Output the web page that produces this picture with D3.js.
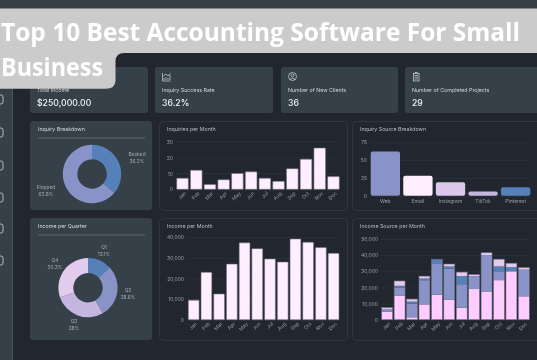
<!DOCTYPE html>
<html>
<head>
<meta charset="utf-8">
<script src="https://cdn.jsdelivr.net/npm/d3@7"></script>
<style>
  html, body { margin: 0; padding: 0; background: #20272f; overflow: hidden; }
  svg { display: block; font-family: "Inter", "Lato", sans-serif; }
</style>
</head>
<body>
<script>
const months = ['Jan','Feb','Mar','Apr','May','Jun','Jul','Aug','Sep','Oct','Nov','Dec']

const inquiriesPerMonth = [7,12,3,6,10,11,7,5,13,19,26,8]
const incomePerMonth = [9500,23000,12500,27000,37300,34500,29500,28000,39200,37600,35000,32200]

const sourceNames = ['Web','Email','Instagram','TikTok','Pinterest']
const sourceValues = [62,28,19,6,12]

const stackKeys = ['a','b','c','d']
const stackA = [5000,15000,1500,9500,15500,12500,7500,19000,17500,24500,30000,14500]
const stackB = [1500,5000,8500,15000,19000,19000,14500,8000,22500,5500,0,16500]
const stackC = [0,1000,1200,1000,3000,1500,5000,0,0,3000,2500,0]
const stackD = [1000,3000,1600,1500,0,1500,2500,1000,1500,4500,2500,1300]

const inquiryLabels = ['Booked','Flopped']
const inquiryShares = [36.2,63.8]
const quarterLabels = ['Q1','Q2','Q3','Q4']
const quarterShares = [13.1,28.6,28,30.3]

const kpiLabels = ['Total Income','Inquiry Success Rate','Number of New Clients','Number of Completed Projects']
const kpiValues = ['$250,000.00','36.2%','36','29']

const width = 537
const height = 360
const bg = '#20272f'
const card = '#36404a'
const pink = '#ffeeff'
const pink2 = '#ffccff'
const peri = '#8a93c8'
const blue = '#5480b8'
const lilac = '#e2cbec'
const mauve = '#c5b6e0'
const barEdge = '#6f6a80'
const tickColor = '#9a9fa5'
const gridColor = '#2d353e'

const svg = d3.select('body').append('svg')
  .attr('width', width)
  .attr('height', height)

svg.append('defs').append('filter')
  .attr('id', 'soft')
  .attr('x', 0).attr('y', 0).attr('width', 1).attr('height', 1)
  .attr('filterUnits', 'objectBoundingBox')
  .append('feGaussianBlur').attr('stdDeviation', 0.55)

svg.select('defs').append('filter')
  .attr('id', 'soft2')
  .append('feGaussianBlur').attr('stdDeviation', 0.4)

const page = svg.append('g').attr('filter', 'url(#soft)')
page.append('rect').attr('width', width).attr('height', height).attr('fill', bg)

// sidebar + top bar
page.append('rect').attr('width', 12.5).attr('height', height).attr('fill', card)
page.append('rect').attr('x', 12).attr('width', 1).attr('height', height).attr('fill', '#4a545d')
page.append('rect').attr('width', width).attr('height', 9).attr('fill', card)

// the sidebar icons, mostly cut off by the window edge
const sideIconY = [99,132,165,197,228,260]
page.selectAll('.side').data(sideIconY).join('rect')
  .attr('class', 'side')
  .attr('x', -5).attr('y', d => d - 4)
  .attr('width', 8).attr('height', 9).attr('rx', 2)
  .attr('fill', 'none').attr('stroke', '#b0b5ba').attr('stroke-width', 1)

// kpi cards
const kpiX = [30,155,281,405]
const kpiW = [118,118,117,140]
kpiLabels.forEach((label, i) => {
  page.append('rect').attr('x', kpiX[i]).attr('y', 67).attr('width', kpiW[i]).attr('height', 46).attr('rx', 3).attr('fill', card)
  page.append('text').attr('x', kpiX[i] + 7).attr('y', 92).attr('font-size', 5.3).attr('fill', '#d0d4d7').text(label)
  page.append('text').attr('x', kpiX[i] + 7).attr('y', 105.5).attr('font-size', 8.7).attr('font-weight', 500).attr('fill', '#f2f3f4').text(kpiValues[i])
})

// kpi icons
const ico = page.append('g').attr('fill', 'none').attr('stroke', '#d5d8db').attr('stroke-width', 0.7)
ico.append('path').attr('d', 'M162.5 73V81H170.5M164 80V78M166 80V77M168 80V78M170 80V75M163.5 76L166 74L168 76L170.5 73.5')
ico.append('circle').attr('cx', 292.5).attr('cy', 76.5).attr('r', 4)
ico.append('circle').attr('cx', 292.5).attr('cy', 75.5).attr('r', 1.4)
ico.append('path').attr('d', 'M289.8 79.5Q292.5 76.8 295.2 79.5')
ico.append('rect').attr('x', 413.5).attr('y', 73.5).attr('width', 5.5).attr('height', 7.5)
ico.append('path').attr('d', 'M415 73V72.5H417.5V73M414.5 75.5H418M414.5 77.2H418M414.5 79H418')

// left cards
function leftCard(y, h, title) {
  page.append('rect').attr('x', 30).attr('y', y).attr('width', 122).attr('height', h).attr('rx', 3).attr('fill', card)
  page.append('text').attr('x', 38).attr('y', y + 10).attr('font-size', 5.3).attr('fill', '#d8dbde').text(title)
  page.append('rect').attr('x', 38).attr('y', y + 16.5).attr('width', 107).attr('height', 1).attr('fill', '#5b646c')
}
leftCard(121, 89, 'Inquiry Breakdown')
leftCard(218, 122, 'Income per Quarter')

// outlined cards
function outlineCard(x, y, w, h, title) {
  page.append('rect').attr('x', x + .5).attr('y', y + .5).attr('width', w).attr('height', h).attr('rx', 4)
    .attr('fill', 'none').attr('stroke', '#2f3741')
  page.append('text').attr('x', x + 8).attr('y', y + 10).attr('font-size', 5.3).attr('fill', '#b7bbbf').text(title)
}
outlineCard(159, 121, 188, 89, 'Inquiries per Month')
outlineCard(352, 121, 190, 89, 'Inquiry Source Breakdown')
outlineCard(159, 218, 188, 122, 'Income per Month')
outlineCard(352, 218, 190, 122, 'Income Source per Month')

function donut(cx, cy, r0, r1, shares, colors) {
  const pie = d3.pie().sort(null)
  const arc = d3.arc().innerRadius(r0).outerRadius(r1)
  page.append('g').attr('transform', `translate(${cx},${cy})`)
    .selectAll('path').data(pie(shares)).join('path')
    .attr('d', arc)
    .attr('fill', (d, i) => colors[i])
}

function donutLabel(x, y, name, value) {
  const t = page.append('text').attr('text-anchor', 'middle').attr('font-size', 4.8).attr('fill', '#a6abb0')
  t.append('tspan').attr('x', x).attr('y', y).text(name)
  t.append('tspan').attr('x', x).attr('y', y + 7).text(value + '%')
}

donut(92, 174, 14.7, 29.2, inquiryShares, [blue, peri])
donutLabel(137, 156, inquiryLabels[0], inquiryShares[0])
donutLabel(46, 189, inquiryLabels[1], inquiryShares[1])

donut(88, 287.7, 14.7, 29.6, quarterShares, [blue, peri, mauve, lilac])
const quarterPos = [[104,249],[128,291.5],[74,323],[55,262]]
quarterLabels.forEach((q, i) => donutLabel(quarterPos[i][0], quarterPos[i][1], q, quarterShares[i]))

// axes
function yAxis(y, x0, x1, ticks, fmt) {
  const g = page.append('g')
    .attr('transform', `translate(${x0},0)`)
    .call(d3.axisLeft(y).tickValues(ticks).tickFormat(fmt).tickSize(-(x1 - x0)).tickPadding(3))
  g.select('.domain').remove()
  g.selectAll('line').attr('stroke', gridColor).attr('stroke-width', 0.8)
  g.selectAll('text').attr('fill', tickColor).attr('font-size', 5).attr('font-family', 'Inter')
}

function xAxis(x, y0, rotate) {
  const g = page.append('g')
    .attr('transform', `translate(0,${y0})`)
    .call(d3.axisBottom(x).tickSize(0).tickPadding(4))
  g.select('.domain').remove()
  const t = g.selectAll('text').attr('fill', tickColor).attr('font-size', 5).attr('font-family', 'Inter')
  if (rotate) {
    t.attr('text-anchor', 'end')
      .attr('dy', '0.35em')
      .attr('dx', '0.1em')
      .attr('transform', 'rotate(-45) translate(-1,0)')
  }
}

function barChart(names, values, xr, yr, maxV, ticks, fmt, color, rotate, padding, axisLeftX, rx) {
  const x = d3.scaleBand().domain(names).range(xr).paddingInner(padding)
  const y = d3.scaleLinear().domain([0, maxV]).range(yr)
  yAxis(y, axisLeftX, xr[1], ticks, fmt)
  xAxis(x, yr[0], rotate)
  page.append('g').selectAll('rect').data(values).join('rect')
    .attr('x', (d, i) => x(names[i]))
    .attr('y', d => y(d))
    .attr('width', x.bandwidth())
    .attr('height', d => y(0) - y(d))
    .attr('rx', rx)
    .attr('fill', (d, i) => Array.isArray(color) ? color[i] : color)
    .attr('stroke', Array.isArray(color) ? 'none' : barEdge)
    .attr('stroke-width', 0.6)
}

const fmtK = d3.format(',')

barChart(months, inquiriesPerMonth, [176.7, 339.3], [189.3, 141.7], 30, [0,10,20,30], fmtK, pink, true, 0.15, 176, 0.5)
barChart(sourceNames, sourceValues, [370.7, 530.3], [195.7, 142.3], 75, [0,25,50,75], fmtK, [peri, pink, '#dcc8ea', mauve, blue], false, 0.1, 370, 2)
barChart(months, incomePerMonth, [188.3, 339], [319.7, 237.3], 40000, [0,10000,20000,30000,40000], fmtK, pink, true, 0.15, 187, 0.5)

// stacked income sources
const stackRows = months.map((m, i) => ({ month: m, a: stackA[i], b: stackB[i], c: stackC[i], d: stackD[i] }))
const stackColors = [pink2, peri, blue, lilac]
const xs = d3.scaleBand().domain(months).range([381.7, 529.3]).paddingInner(0.12)
const ys = d3.scaleLinear().domain([0, 50000]).range([319.7, 239])
yAxis(ys, 381, 530, [0,10000,20000,30000,40000,50000], fmtK)
xAxis(xs, 319.7, true)
const layers = d3.stack().keys(stackKeys)(stackRows)
page.append('g').selectAll('g').data(layers).join('g')
  .attr('fill', (d, i) => stackColors[i])
  .selectAll('rect').data(d => d).join('rect')
  .attr('x', d => xs(d.data.month))
  .attr('y', d => ys(d[1]))
  .attr('width', xs.bandwidth())
  .attr('height', d => ys(d[0]) - ys(d[1]))
page.append('g').selectAll('rect').data(stackRows).join('rect')
  .attr('x', d => xs(d.month))
  .attr('y', d => ys(d.a + d.b + d.c + d.d))
  .attr('width', xs.bandwidth())
  .attr('height', d => ys(0) - ys(d.a + d.b + d.c + d.d))
  .attr('fill', 'none')
  .attr('stroke', barEdge)
  .attr('stroke-width', 0.6)

// grey title banner on top of the dashboard
const banner = svg.append('g')
banner.append('path')
  .attr('d', 'M0 8.5H537V53H124Q116 53 115.5 61V81Q115 88.8 106 88.8H0Z')
  .attr('fill', '#cbcbcb')
const titleG = banner.append('g')
  .attr('filter', 'url(#soft2)')
  .attr('font-family', 'Open Sans')
  .attr('font-weight', 700)
  .attr('font-size', 24.5)
  .attr('fill', '#ffffff')
titleG.append('text').attr('x', 1).attr('y', 40.7).attr('textLength', 519).attr('lengthAdjust', 'spacingAndGlyphs').text('Top 10 Best Accounting Software For Small')
titleG.append('text').attr('x', 1).attr('y', 76).attr('textLength', 102).attr('lengthAdjust', 'spacingAndGlyphs').text('Business')
</script>
</body>
</html>
